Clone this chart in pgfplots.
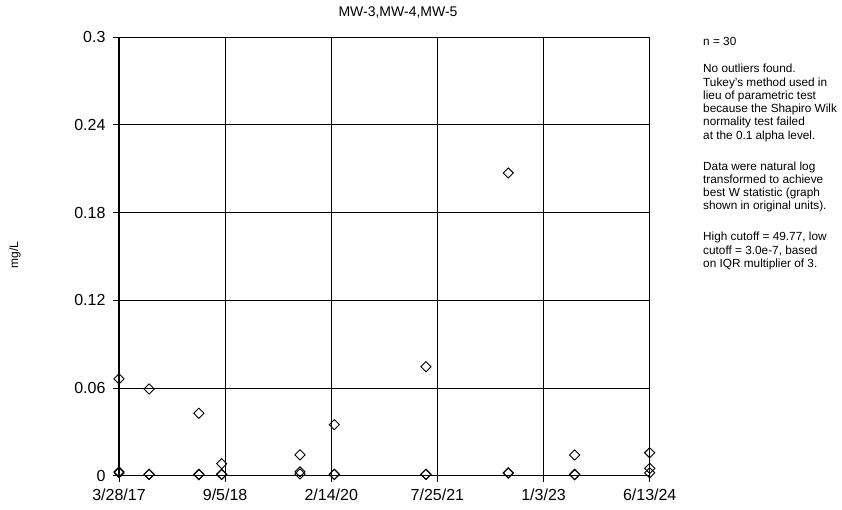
\documentclass[border=0pt]{standalone}
\usepackage{pgfplots}
\pgfplotsset{compat=1.18}
\usepackage{fontspec}
\setmainfont{Liberation Sans}
\begin{document}
\begin{tikzpicture}[x=1pt,y=1pt]
\path (0,0) rectangle (842,510);
\begin{axis}[
  at={(119pt,34.3pt)}, anchor=south west,
  scale only axis, width=530.7pt, height=438.5pt,
  xmin=0, xmax=2630, ymin=0, ymax=0.3,
  clip=false,
  axis x line*=bottom, axis y line*=left,
  axis line style={-, line width=1.5pt},
  xtick={0,526,1052,1578,2104,2630},
  xticklabels={3/28/17,9/5/18,2/14/20,7/25/21,1/3/23,6/13/24},
  ytick={0,0.06,0.12,0.18,0.24,0.3},
  yticklabels={0,0.06,0.12,0.18,0.24,0.3},
  tick align=outside, major tick length=6pt,
  tick style={black, line width=0.9pt},
  grid=major, major grid style={black, line width=0.9pt},
  ticklabel style={font=\fontsize{16}{19}\selectfont},
  xticklabel style={yshift=-3.5pt},
  yticklabel style={xshift=-4pt},
]
\addplot[only marks, mark=square, mark size=3.6pt,
  mark options={rotate=45, fill=white, draw=black, line width=0.9pt}]
coordinates {
(0,0.0662) (0,0.0027) (0,0.0020)
(149,0.0593) (149,0.0010) (149,0.0008)
(396,0.0427) (396,0.0010) (396,0.0006)
(509,0.0082) (509,0.0010) (509,0.0008)
(897,0.0142) (897,0.0027) (897,0.0012)
(1067,0.0349) (1067,0.0010) (1067,0.0008)
(1521,0.0746) (1521,0.0010) (1521,0.0009)
(1929,0.2071) (1929,0.0020) (1929,0.0017)
(2258,0.0142) (2258,0.0010) (2258,0.0006)
(2630,0.0157) (2630,0.0050) (2630,0.0020)
};
\end{axis}
\node[font=\fontsize{14}{16}\selectfont] at (398,497) {MW-3,MW-4,MW-5};
\node[rotate=90, font=\fontsize{12}{14}\selectfont] at (15,255) {mg/L};
\node[anchor=north west, align=left, inner sep=0pt, font=\fontsize{11.8}{13.3}\selectfont] at (703,473) {n = 30\\[14pt]
No outliers found.\\
Tukey's method used in\\
lieu of parametric test\\
because the Shapiro Wilk\\
normality test failed\\
at the 0.1 alpha level.\\[17.5pt]
Data were natural log\\
transformed to achieve\\
best W statistic (graph\\
shown in original units).\\[17.5pt]
High cutoff = 49.77, low\\
cutoff = 3.0e-7, based\\
on IQR multiplier of 3.};
\end{tikzpicture}
\end{document}
